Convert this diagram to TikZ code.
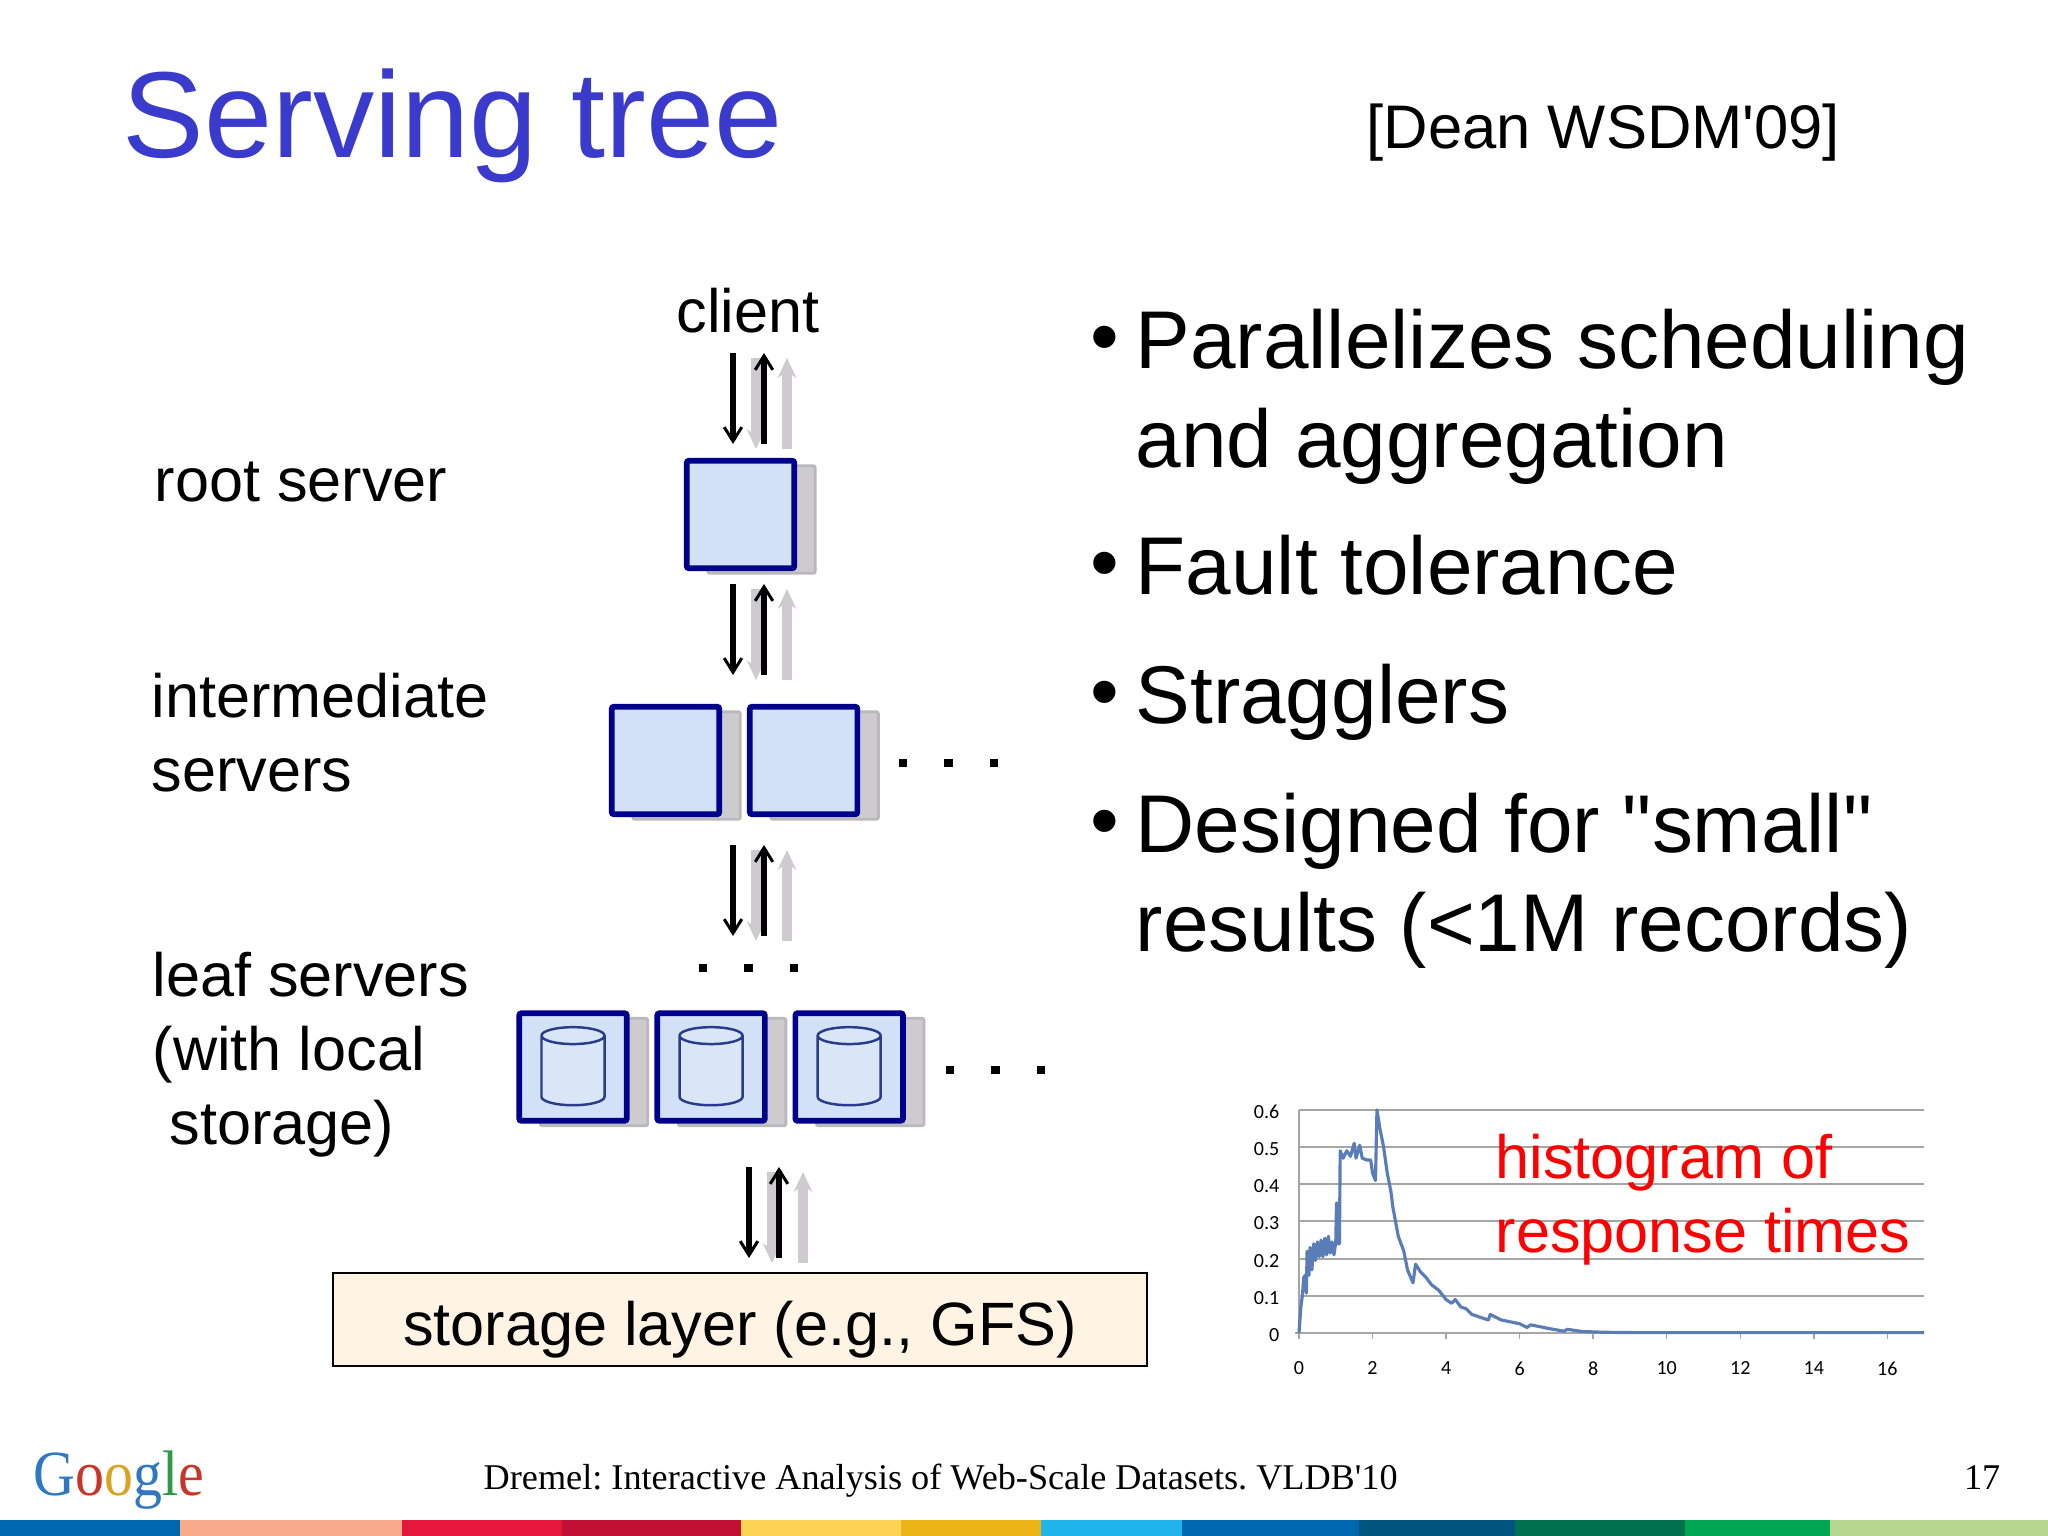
\documentclass[tikz,border=0pt]{standalone}
\usepackage{xcolor}
\usepackage{fontspec}
\setmainfont{Liberation Sans}
\newfontfamily\plainsans{Liberation Sans}
\newfontfamily\serifnote{Liberation Serif}
\newfontfamily\chartnote{Carlito}
\usepackage{tikz}
\usetikzlibrary{arrows.meta}
\usetikzlibrary{calc}
\usetikzlibrary{positioning}
\usetikzlibrary{shadows}
\usetikzlibrary{shapes.geometric}
\definecolor{titleblue}{HTML}{3A3ACC}
\definecolor{boxblue}{HTML}{00008C}
\definecolor{boxfill}{HTML}{D2E1F5}
\definecolor{diskblue}{HTML}{2A3A8C}
\definecolor{shadowgray}{HTML}{CDCBCE}
\definecolor{shadowedge}{HTML}{B9B9BB}
\definecolor{storefill}{HTML}{FFF3E3}
\definecolor{gridgray}{HTML}{A6A6A6}
\definecolor{curveblue}{HTML}{5A7DB8}
\begin{document}
\frenchspacing
\begin{tikzpicture}[x=0.01cm,y=-0.01cm]
 \useasboundingbox (0,0) rectangle (2048,1536);
 \tikzstyle{srv}=[draw=boxblue, fill=boxfill, line width=1.6pt, rounded corners=0.6pt, minimum size=1.075cm, inner sep=0pt, outer sep=0pt,
   general shadow={shadow xshift=0.21cm, shadow yshift=-0.05cm, fill=shadowgray, draw=shadowedge, line width=0.8pt}]
 \tikzstyle{disk}=[draw=diskblue, fill=boxfill!85!white, line width=0.7pt, shape=cylinder, shape border rotate=90, aspect=0.4, minimum width=0.63cm, minimum height=0.78cm, inner sep=6pt, yshift=-0.08cm]
 \tikzstyle{lbl}=[anchor=base west, inner sep=0pt, font=\fontsize{17.4}{21}\selectfont]
 \tikzstyle{big}=[anchor=base west, inner sep=0pt, font=\fontsize{23.3}{28}\selectfont]
 \tikzstyle{dotmark}=[fill=black, minimum size=0.087cm, inner sep=0pt, outer sep=0pt]
 \tikzstyle{barpart}=[anchor=north west, inner sep=0pt, outer sep=0pt, minimum height=0.16cm]
 \tikzstyle{blackarrow}=[black, line width=1.6pt, -{Straight Barb[length=0.1pt,width=0.1pt,line width=0.1pt]Straight Barb[length=4pt,width=5pt,line width=0.85pt]}]
 \tikzstyle{grayarrow}=[shadowgray, line width=2.8pt, -{Stealth[length=5.6pt,width=5.2pt]}]
 \tikzstyle{ylab}=[anchor=east, inner sep=0pt, font=\chartnote\fontsize{5.7}{7}\selectfont, xshift=-0.19cm, yshift=-0.02cm]
 \tikzstyle{xlab}=[anchor=north, inner sep=0pt, font=\chartnote\fontsize{5.7}{7}\selectfont, yshift=-0.28cm]

 % heading
 \node[anchor=base west, inner sep=0pt, text=titleblue, font=\fontsize{34.8}{40}\selectfont] (title) at (122,157) {Serving tree};
 \node[lbl, font=\plainsans\fontsize{17.5}{22}\selectfont] (cite) at (1366,148) {[Dean WSDM'09]};

 % left labels
 \node[lbl] (client) at (676,332) {client};
 \node[lbl] (rootlbl) at (154,501) {root server};
 \node[lbl] (midlbl) at (151,717) {intermediate};
 \node[lbl] (midlblb) at (151,791) {servers};
 \node[lbl] (leaflbl) at (152,996) {leaf servers};
 \node[lbl] (leaflblb) at (152,1070) {(with local};
 \node[lbl] (leaflblc) at (169,1144) {storage)};

 % servers
 \node[srv] (root) at (740.5,514.5) {};
 \node[srv] (midA) at (665.5,760.5) {};
 \node[srv] (midB) [right=0.305cm of midA] {};
 \node[srv] (leafA) at (573,1067) {};
 \node[srv] (leafB) [right=0.305cm of leafA] {};
 \node[srv] (leafC) [right=0.305cm of leafB] {};
 \node[disk] (diskA) at (leafA) {};
 \node[disk] (diskB) at (leafB) {};
 \node[disk] (diskC) at (leafC) {};

 % the dots
 \node[dotmark] (dotA) at (903,763) {};
 \node[dotmark] (dotB) [right=0.368cm of dotA] {};
 \node[dotmark] (dotC) [right=0.368cm of dotB] {};
 \node[dotmark] (dotD) at (703,968) {};
 \node[dotmark] (dotE) [right=0.368cm of dotD] {};
 \node[dotmark] (dotF) [right=0.368cm of dotE] {};
 \node[dotmark] (dotG) at (950,1070) {};
 \node[dotmark] (dotH) [right=0.368cm of dotG] {};
 \node[dotmark] (dotI) [right=0.368cm of dotH] {};

 % storage
 \node[draw=black, fill=storefill, line width=0.55pt, minimum width=8.14cm, minimum height=0.93cm, inner sep=0pt, font=\fontsize{17.4}{21}\selectfont, text height=18.1pt, text depth=3.6pt] (store) at (740,1319.5) {storage layer (e.g., GFS)};

 % arrows
 \coordinate (topA) at (733,353);
 \coordinate (botA) at (733,444);
 \coordinate (topB) at (733,584);
 \coordinate (botB) at (733,675);
 \coordinate (topC) at (733,845);
 \coordinate (botC) at (733,936);
 \coordinate (topD) at (749,1167);
 \coordinate (botD) at (749,1258);
 \draw[grayarrow] ($(topA)+(23,5)$) -- ($(botA)+(23,5)$);
 \draw[grayarrow] ($(botA)+(54,5)$) -- ($(topA)+(54,5)$);
 \draw[blackarrow] (topA) -- (botA);
 \draw[blackarrow] ($(botA)+(31,0)$) -- ($(topA)+(31,0)$);
 \draw[grayarrow] ($(topB)+(23,5)$) -- ($(botB)+(23,5)$);
 \draw[grayarrow] ($(botB)+(54,5)$) -- ($(topB)+(54,5)$);
 \draw[blackarrow] (topB) -- (botB);
 \draw[blackarrow] ($(botB)+(31,0)$) -- ($(topB)+(31,0)$);
 \draw[grayarrow] ($(topC)+(23,5)$) -- ($(botC)+(23,5)$);
 \draw[grayarrow] ($(botC)+(54,5)$) -- ($(topC)+(54,5)$);
 \draw[blackarrow] (topC) -- (botC);
 \draw[blackarrow] ($(botC)+(31,0)$) -- ($(topC)+(31,0)$);
 \draw[grayarrow] ($(topD)+(23,5)$) -- ($(botD)+(23,5)$);
 \draw[grayarrow] ($(botD)+(54,5)$) -- ($(topD)+(54,5)$);
 \draw[blackarrow] (topD) -- (botD);
 \draw[blackarrow] ($(botD)+(30,0)$) -- ($(topD)+(30,0)$);

 % bullets
 \node[big] (bulA) at (1090,364) {\textbullet};
 \node[big] (lineA) at (1135,368) {Parallelizes scheduling};
 \node[big] (lineB) at (1135,467) {and aggregation};
 \node[big] (bulB) at (1090,590) {\textbullet};
 \node[big] (lineC) at (1135,594) {Fault tolerance};
 \node[big] (bulC) at (1090,719) {\textbullet};
 \node[big] (lineD) at (1135,723) {Stragglers};
 \node[big] (bulD) at (1090,848) {\textbullet};
 \node[big, font=\plainsans\fontsize{23.3}{28}\selectfont] (lineE) at (1135,852) {Designed for "small"};
 \node[big] (lineF) at (1135,951) {results (<1M records)};

 % response chart
 \begin{scope}[shift={(1299,1333)},x=0.3675cm,y=3.717cm]
  \draw[gridgray, line width=0.55pt] (0,0.1) -- (17,0.1) (0,0.2) -- (17,0.2) (0,0.3) -- (17,0.3) (0,0.4) -- (17,0.4) (0,0.5) -- (17,0.5) (0,0.6) -- (17,0.6);
  \draw[gridgray, line width=0.55pt] (-0.1,0) -- (17,0) (0,0) -- (0,0.6);
  \draw[gridgray, line width=0.4pt] (2,0) -- (2,-0.015) (4,0) -- (4,-0.015) (6,0) -- (6,-0.015) (8,0) -- (8,-0.015) (10,0) -- (10,-0.015) (12,0) -- (12,-0.015) (14,0) -- (14,-0.015) (16,0) -- (16,-0.015) (0,0) -- (0,-0.015);
  \draw[curveblue, line width=0.9pt, line join=round] plot coordinates {(0,0) (0.05,0.07) (0.09,0.1) (0.13,0.15) (0.17,0.155) (0.2,0.107) (0.22,0.22) (0.27,0.155) (0.3,0.23) (0.35,0.17) (0.4,0.24) (0.45,0.195) (0.5,0.245) (0.55,0.205) (0.6,0.25) (0.65,0.205) (0.7,0.255) (0.75,0.21) (0.8,0.26) (0.85,0.215) (0.9,0.245) (0.95,0.21) (1.0,0.245) (1.02,0.35) (1.05,0.24) (1.1,0.24) (1.12,0.49) (1.2,0.47) (1.3,0.49) (1.4,0.475) (1.5,0.51) (1.55,0.47) (1.65,0.505) (1.72,0.47) (1.85,0.465) (1.95,0.465) (2.0,0.43) (2.08,0.41) (2.12,0.6) (2.2,0.55) (2.3,0.5) (2.4,0.43) (2.5,0.38) (2.55,0.34) (2.7,0.26) (2.85,0.22) (2.95,0.17) (3.1,0.135) (3.17,0.185) (3.3,0.165) (3.45,0.15) (3.6,0.13) (3.8,0.115) (4.0,0.09) (4.15,0.08) (4.25,0.09) (4.4,0.07) (4.55,0.065) (4.7,0.05) (5.0,0.04) (5.15,0.035) (5.2,0.05) (5.5,0.035) (6,0.025) (6.2,0.015) (6.3,0.022) (6.8,0.012) (7.2,0.005) (7.3,0.01) (7.7,0.004) (8.3,0.002) (9.2,0.001) (17,0.001)};
  \path (0,0) node[ylab] (yzero) {0} (0,0.1) node[ylab] (yone) {0.1} (0,0.2) node[ylab] (ytwo) {0.2} (0,0.3) node[ylab] (ythree) {0.3} (0,0.4) node[ylab] (yfour) {0.4} (0,0.5) node[ylab] (yfive) {0.5} (0,0.6) node[ylab] (ysix) {0.6};
  \path (0,0) node[xlab] (xzero) {0} (2,0) node[xlab] (xtwo) {2} (4,0) node[xlab] (xfour) {4} (6,0) node[xlab] (xsix) {6} (8,0) node[xlab] (xeight) {8} (10,0) node[xlab] (xten) {10} (12,0) node[xlab] (xtwelve) {12} (14,0) node[xlab] (xfourteen) {14} (16,0) node[xlab] (xsixteen) {16};
 \end{scope}
 \node[lbl, text=red] (histA) at (1495,1178) {histogram of};
 \node[lbl, text=red] (histB) at (1495,1252) {response times};

 % footer
 \node[anchor=base west, inner sep=0pt, font=\serifnote\fontsize{18.3}{24}\selectfont] (logo) at (33,1495) {\scalebox{0.9}[1]{\textcolor[HTML]{2F77BE}{G}\textcolor[HTML]{C8352A}{o}\textcolor[HTML]{D9A420}{o}\textcolor[HTML]{2F77BE}{g}\textcolor[HTML]{2E9A45}{l}\textcolor[HTML]{C8352A}{e}}};
 \node[anchor=base west, inner sep=0pt, font=\serifnote\fontsize{10.3}{12}\selectfont] (foot) at (483,1489) {Dremel: Interactive Analysis of Web-Scale Datasets. VLDB'10};
 \node[anchor=base east, inner sep=0pt, font=\serifnote\fontsize{10.3}{12}\selectfont] (pageno) at (2001,1489) {17};

 % colour strip
 \node[barpart, fill={rgb,255:red,0;green,104;blue,177}, minimum width=1.80cm] (stripA) at (0,1520) {};
 \node[barpart, fill={rgb,255:red,248;green,170;blue,138}, minimum width=2.22cm] (stripB) [right=0cm of stripA] {};
 \node[barpart, fill={rgb,255:red,229;green,23;blue,59}, minimum width=1.60cm] (stripC) [right=0cm of stripB] {};
 \node[barpart, fill={rgb,255:red,194;green,16;blue,52}, minimum width=1.79cm] (stripD) [right=0cm of stripC] {};
 \node[barpart, fill={rgb,255:red,253;green,211;blue,83}, minimum width=1.59cm] (stripE) [right=0cm of stripD] {};
 \node[barpart, fill={rgb,255:red,237;green,180;blue,24}, minimum width=1.40cm] (stripF) [right=0cm of stripE] {};
 \node[barpart, fill={rgb,255:red,31;green,181;blue,234}, minimum width=1.41cm] (stripG) [right=0cm of stripF] {};
 \node[barpart, fill={rgb,255:red,0;green,104;blue,177}, minimum width=1.77cm] (stripH) [right=0cm of stripG] {};
 \node[barpart, fill={rgb,255:red,0;green,85;blue,127}, minimum width=1.56cm] (stripI) [right=0cm of stripH] {};
 \node[barpart, fill={rgb,255:red,0;green,113;blue,79}, minimum width=1.70cm] (stripJ) [right=0cm of stripI] {};
 \node[barpart, fill={rgb,255:red,0;green,166;blue,81}, minimum width=1.45cm] (stripK) [right=0cm of stripJ] {};
 \node[barpart, fill={rgb,255:red,182;green,215;blue,143}, minimum width=2.19cm] (stripL) [right=0cm of stripK] {};
\end{tikzpicture}
\end{document}
